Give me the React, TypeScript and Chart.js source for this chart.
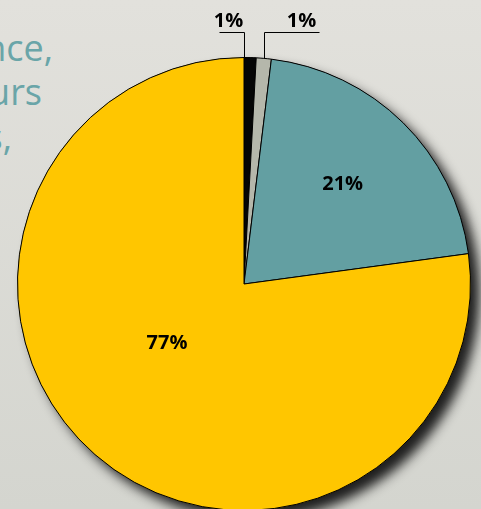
import React, { useEffect, useRef } from "react";
import { Chart, registerables } from "chart.js";

Chart.register(...registerables);

const categories = ["Black", "Grey", "Teal", "Yellow"];
const values = [0.86, 1.07, 20.93, 77.14];
const labelTexts = ["1%", "1%", "21%", "77%"];
const colors = ["#050505", "#b5b7ab", "#639fa2", "#ffc600"];
const sideText = ["nce,", "urs", "s,"];

const W = 481;
const H = 509;
const CH = 520;

const shadowPlugin = {
  id: "pieShadow",
  beforeDatasetsDraw(chart: any) {
    const arc = chart.getDatasetMeta(0).data[0];
    if (!arc) return;
    const { x, y, outerRadius } = arc.getProps(["x", "y", "outerRadius"], true);
    const ctx = chart.ctx;
    ctx.save();
    ctx.shadowColor = "rgba(20,20,20,0.95)";
    ctx.shadowBlur = 12;
    ctx.shadowOffsetX = 9;
    ctx.shadowOffsetY = 9;
    ctx.fillStyle = "#363636";
    ctx.beginPath();
    ctx.arc(x, y, outerRadius, 0, Math.PI * 2);
    ctx.fill();
    ctx.restore();
  },
};

// label placement: [angle fraction within slice, radius fraction] for inside labels
const insidePlace: Record<number, [number, number]> = {
  2: [0.5, 0.62],
  3: [0.54, 0.43],
};
// outside labels: anchor fraction within slice, direction
const outsidePlace: Record<number, [number, number]> = {
  0: [0.0, -1],
  1: [0.5, 1],
};

const labelPlugin = {
  id: "pieLabels",
  afterDatasetsDraw(chart: any) {
    const ctx = chart.ctx;
    const meta = chart.getDatasetMeta(0);
    ctx.save();
    ctx.fillStyle = "#000";
    ctx.font = "bold 20px 'Open Sans', sans-serif";
    ctx.textAlign = "center";
    ctx.textBaseline = "middle";
    meta.data.forEach((el: any, i: number) => {
      const { x, y, startAngle, endAngle, outerRadius } = el.getProps(
        ["x", "y", "startAngle", "endAngle", "outerRadius"],
        true
      );
      if (insidePlace[i]) {
        const [af, rf] = insidePlace[i];
        const a = startAngle + (endAngle - startAngle) * af;
        ctx.fillText(labelTexts[i], x + Math.cos(a) * outerRadius * rf, y + Math.sin(a) * outerRadius * rf);
      } else if (outsidePlace[i]) {
        const [af, dir] = outsidePlace[i];
        const a = startAngle + (endAngle - startAngle) * af;
        const px = Math.round(x + Math.cos(a) * outerRadius) + 0.5;
        const py = y + Math.sin(a) * outerRadius;
        const ly = Math.round(y - outerRadius - 26) + 0.5;
        const ex = px + dir * (dir < 0 ? 25 : 55);
        ctx.strokeStyle = "#000";
        ctx.lineWidth = 1;
        ctx.beginPath();
        ctx.moveTo(px, py);
        ctx.lineTo(px, ly);
        ctx.lineTo(ex, ly);
        ctx.stroke();
        const tx = dir < 0 ? px - 16 : px + 37;
        ctx.fillText(labelTexts[i], tx, ly - 11);
      }
    });
    ctx.restore();
  },
};

export default function App() {
  const ref = useRef<HTMLCanvasElement>(null);
  useEffect(() => {
    if (!ref.current) return;
    const chart = new Chart(ref.current, {
      type: "pie",
      data: {
        labels: categories,
        datasets: [
          {
            data: values,
            backgroundColor: colors,
            borderColor: "#000",
            borderWidth: 1,
          },
        ],
      },
      options: {
        responsive: false,
        animation: false,
        layout: { padding: { left: 17, right: 10, top: 57, bottom: 9 } },
        plugins: {
          legend: { display: false },
          tooltip: { enabled: false },
        },
      },
      plugins: [shadowPlugin, labelPlugin],
    });
    return () => chart.destroy();
  }, []);

  const lineStyle = (right: number, top: number): React.CSSProperties => ({
    position: "absolute",
    right: W - right,
    top,
    whiteSpace: "nowrap",
    fontFamily: "'Open Sans', sans-serif",
    fontSize: 36,
    lineHeight: "40px",
    color: "#6aa5a8",
  });

  return (
    <div
      style={{
        position: "fixed",
        left: 0,
        top: 0,
        width: W,
        height: H,
        overflow: "hidden",
        background: "linear-gradient(to bottom, #e2e1dc, #d4d5cf)",
      }}
    >
      <div style={lineStyle(53, 28)}>{sideText[0]}</div>
      <div style={lineStyle(42, 72)}>{sideText[1]}</div>
      <div style={lineStyle(12, 117)}>{sideText[2]}</div>
      <canvas ref={ref} width={W} height={CH} style={{ position: "absolute", left: 0, top: 0 }} />
    </div>
  );
}
